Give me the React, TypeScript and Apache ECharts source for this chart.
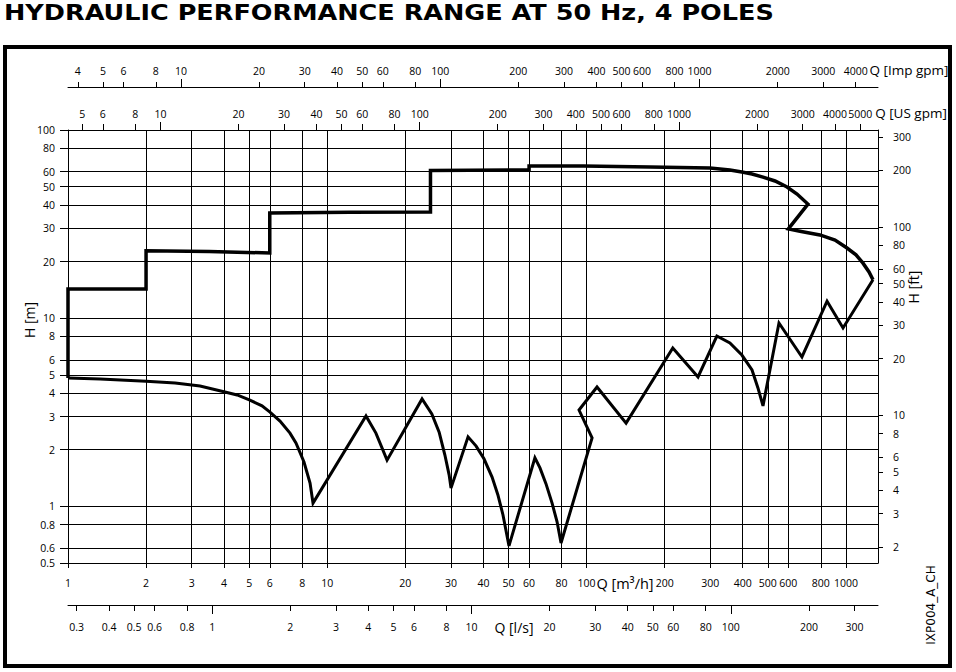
import React, { useEffect, useRef } from "react";
import * as echarts from "echarts";

// ---- scale extents (m³/h and m) ----
const Q_MIN = 1;
const Q_MAX = 1330;
const H_MIN = 0.5;
const H_MAX = 100;

// unit conversions
const M3H_TO_LS = 1 / 3.6;
const M3H_TO_USGPM = 4.4029;
const M3H_TO_IMPGPM = 3.6662;
const M_TO_FT = 3.28084;

// ---- tick labels ----
const ticksM3h = [1, 2, 3, 4, 5, 6, 8, 10, 20, 30, 40, 50, 60, 80, 100, 200, 300, 400, 500, 600, 800, 1000];
const ticksLs = [0.3, 0.4, 0.5, 0.6, 0.8, 1, 2, 3, 4, 5, 6, 8, 10, 20, 30, 40, 50, 60, 80, 100, 200, 300];
const ticksLsDecade = [1, 10, 100];
const ticksUsGpm = [5, 6, 8, 10, 20, 30, 40, 50, 60, 80, 100, 200, 300, 400, 500, 600, 800, 1000, 2000, 3000, 4000, 5000];
const ticksUsGpmDecade = [10, 100, 1000];
const ticksImpGpm = [4, 5, 6, 8, 10, 20, 30, 40, 50, 60, 80, 100, 200, 300, 400, 500, 600, 800, 1000, 2000, 3000, 4000];
const ticksImpGpmDecade = [10, 100, 1000];
const ticksHm = [0.5, 0.6, 0.8, 1, 2, 3, 4, 5, 6, 8, 10, 20, 30, 40, 50, 60, 80, 100];
const ticksHft = [2, 3, 4, 5, 6, 8, 10, 20, 30, 40, 50, 60, 80, 100, 200, 300];

// ---- performance range outline (Q in m³/h, H in m) ----
// upper envelope: steps, then the top curve and the right-hand curve
const upperQ = [1, 1, 2, 2, 3.5, 6, 6, 12.2, 25, 25, 60, 60, 97, 176, 299, 327, 357, 397, 434.5, 479, 533, 593, 648, 714, 600, 665, 794, 908, 1010, 1094, 1164, 1228, 1272];
const upperH = [4.81, 14.3, 14.3, 22.8, 22.6, 22.2, 36.2, 36.5, 36.7, 61, 61.3, 64.4, 64.4, 63.6, 62.8, 62.1, 61.3, 59.8, 58.4, 56.2, 53.6, 49.8, 45.7, 40.4, 29.8, 29.0, 27.7, 26.0, 23.6, 21.7, 19.6, 17.6, 16.0];

// lower envelope, left to right
const lowerQ = [
  1, 1.33, 2, 2.59, 3.23, 4.03, 4.49, 5.03, 5.6, 6.01, 6.57, 7.18, 7.57, 8.13, 8.58, 8.81,
  14.1, 15.4, 17.0,
  23.2, 25.3, 27.0, 28.4, 29.5, 30.0,
  34.9, 37.5, 40.2, 43.2, 45.5, 47.6, 50.2,
  63.2, 66.1, 69.7, 73.6, 76.9, 79.7,
  105, 93.5, 109.7, 142, 215, 269,
  318, 357, 397, 434.5, 458, 479,
  552, 677, 846, 975, 1272,
];
const lowerH = [
  4.81, 4.75, 4.62, 4.53, 4.36, 4.05, 3.91, 3.67, 3.42, 3.17, 2.84, 2.45, 2.17, 1.72, 1.33, 1.04,
  3.02, 2.45, 1.76,
  3.72, 3.10, 2.48, 1.88, 1.47, 1.25,
  2.34, 2.09, 1.79, 1.43, 1.15, 0.9, 0.616,
  1.81, 1.6, 1.32, 1.04, 0.83, 0.639,
  2.31, 3.25, 4.31, 2.77, 6.94, 4.87,
  8.04, 7.38, 6.37, 5.31, 4.26, 3.42,
  9.43, 6.22, 12.3, 8.87, 16.0,
];

const lg = Math.log10;
const fmt = (v: number) => String(parseFloat(Math.pow(10, v).toPrecision(4)));
const FONT = "'Open Sans', 'DejaVu Sans', sans-serif";
const BLACK = "#000";

function xAxisDef(
  factor: number,
  ticks: number[],
  position: "top" | "bottom",
  offset: number,
  tickLen: number,
  margin: number,
  opts: { labels?: boolean; line?: boolean; split?: boolean } = {}
) {
  const { labels = true, line = true, split = false } = opts;
  const vals = ticks.map(lg);
  return {
    type: "value",
    gridIndex: 0,
    position,
    offset,
    min: lg(Q_MIN * factor),
    max: lg(Q_MAX * factor),
    axisLine: { show: line, onZero: false, lineStyle: { color: BLACK, width: 1 } },
    axisTick: { show: true, inside: false, length: tickLen, customValues: vals, lineStyle: { color: BLACK, width: 1 } },
    axisLabel: {
      show: labels,
      customValues: vals,
      formatter: fmt,
      margin,
      color: BLACK,
      fontSize: 10.5,
      fontFamily: FONT,
      hideOverlap: false,
    },
    splitLine: { show: split, lineStyle: { color: BLACK, width: 1 } },
    minorTick: { show: false },
    minorSplitLine: { show: false },
  };
}

function yAxisDef(
  factor: number,
  ticks: number[],
  position: "left" | "right",
  tickLen: number,
  margin: number,
  split: boolean
) {
  const vals = ticks.map(lg);
  return {
    type: "value",
    gridIndex: 0,
    position,
    min: lg(H_MIN * factor),
    max: lg(H_MAX * factor),
    axisLine: { show: true, onZero: false, lineStyle: { color: BLACK, width: 1 } },
    axisTick: { show: true, inside: false, length: tickLen, customValues: vals, lineStyle: { color: BLACK, width: 1 } },
    axisLabel: {
      show: true,
      customValues: vals,
      formatter: fmt,
      margin,
      color: BLACK,
      fontSize: 10.5,
      fontFamily: FONT,
      hideOverlap: false,
    },
    splitLine: { show: split, lineStyle: { color: BLACK, width: 1 } },
    minorTick: { show: false },
    minorSplitLine: { show: false },
  };
}

const label = (text: string, x: number, y: number, size: number, rotation = 0, family = FONT, weight = "normal") => ({
  type: "text",
  x,
  y,
  rotation,
  style: {
    text,
    fill: BLACK,
    font: `${weight} ${size}px ${family}`,
    textAlign: "center",
    align: "center",
    textVerticalAlign: "middle",
    verticalAlign: "middle",
  },
  z: 100,
});

export default function App() {
  const ref = useRef<HTMLDivElement>(null);
  useEffect(() => {
    if (!ref.current) return;
    const chart = echarts.init(ref.current, undefined, { renderer: "svg" });
    const upper = upperQ.map((q, i) => [lg(q), lg(upperH[i])]);
    const lower = lowerQ.map((q, i) => [lg(q), lg(lowerH[i])]);
    chart.setOption({
      animation: false,
      backgroundColor: "#fff",
      grid: { left: 68, top: 130, width: 810, height: 433, containLabel: false, show: false },
      xAxis: [
        xAxisDef(1, ticksM3h, "bottom", 0, 5, 14, { split: true }),
        xAxisDef(M3H_TO_LS, ticksLs, "bottom", 42, 6, 16),
        xAxisDef(M3H_TO_LS, ticksLsDecade, "bottom", 42, 9, 16, { labels: false, line: false }),
        xAxisDef(M3H_TO_USGPM, ticksUsGpm, "top", 0, 6, 11),
        xAxisDef(M3H_TO_USGPM, ticksUsGpmDecade, "top", 0, 8, 11, { labels: false, line: false }),
        xAxisDef(M3H_TO_IMPGPM, ticksImpGpm, "top", 43, 5, 11),
        xAxisDef(M3H_TO_IMPGPM, ticksImpGpmDecade, "top", 43, 8, 11, { labels: false, line: false }),
      ],
      yAxis: [
        yAxisDef(1, ticksHm, "left", 8, 13, true),
        yAxisDef(M_TO_FT, ticksHft, "right", 5, 15, false),
      ],
      series: [
        {
          type: "line",
          xAxisIndex: 0,
          yAxisIndex: 0,
          data: upper,
          symbol: "none",
          lineStyle: { color: BLACK, width: 3.5, join: "miter" },
          z: 10,
          silent: true,
        },
        {
          type: "line",
          xAxisIndex: 0,
          yAxisIndex: 0,
          data: lower,
          symbol: "none",
          lineStyle: { color: BLACK, width: 3, join: "miter" },
          z: 10,
          silent: true,
        },
      ],
      graphic: [
        {
          type: "rect",
          shape: { x: 5, y: 47, width: 945, height: 619 },
          style: { fill: "none", stroke: BLACK, lineWidth: 4 },
          z: 100,
        },
        {
          type: "text",
          x: 4,
          y: 13,
          scaleX: 1.16,
          style: {
            text: "HYDRAULIC PERFORMANCE RANGE AT 50 Hz, 4 POLES",
            fill: BLACK,
            font: "bold 22px 'DejaVu Sans', sans-serif",
            textAlign: "left",
            align: "left",
            textVerticalAlign: "middle",
            verticalAlign: "middle",
          },
          z: 100,
        },
        label("Q [Imp gpm]", 909, 70, 13.5),
        label("Q [US gpm]", 911, 113, 13.5),
        label("Q [m³/h]", 625, 583, 14.5),
        label("Q [l/s]", 514, 627, 14),
        label("H [m]", 29, 320, 14, Math.PI / 2),
        label("H [ft]", 913, 287, 14, Math.PI / 2),
        label("IXP004_A_CH", 931, 605, 12, Math.PI / 2, "'DejaVu Sans', sans-serif"),
      ],
    });
    return () => chart.dispose();
  }, []);
  return <div ref={ref} style={{ position: "fixed", left: 0, top: 0, width: 956, height: 672 }} />;
}
